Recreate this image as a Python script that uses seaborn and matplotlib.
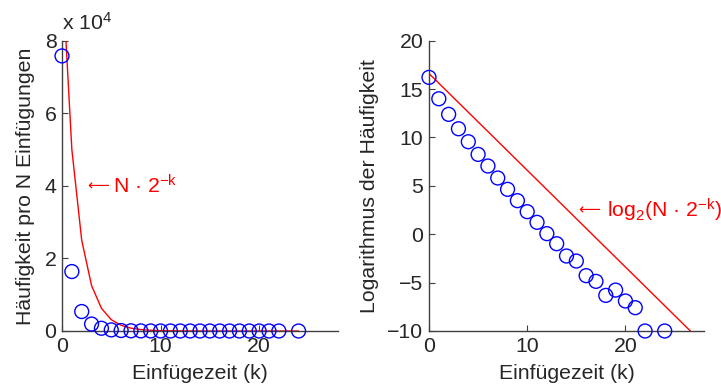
import numpy as np
import pandas as pd
import matplotlib
matplotlib.use("Agg")
import matplotlib.pyplot as plt
import seaborn as sns
from matplotlib.ticker import FuncFormatter

# ---- data ----
k_points = [0, 1, 2, 3, 4, 5, 6, 7, 8, 9, 10, 11, 12, 13, 14, 15, 16, 17, 18, 19, 20, 21, 22, 24]
log_freq = [16.21, 14.0, 12.39, 10.9, 9.56, 8.25, 7.05, 5.81, 4.64, 3.47, 2.33, 1.23, 0.06,
            -0.98, -2.25, -2.77, -4.28, -4.87, -6.32, -5.77, -6.9, -7.59, -10.0, -10.0]
N_total = 100000
k_curve_left = list(range(0, 25))
k_curve_right = list(range(0, 29))
x_ticks = [0, 10, 20]
y_ticks_left = [0, 20000, 40000, 60000, 80000]
y_ticks_right = [-10, -5, 0, 5, 10, 15, 20]

# counts per N insertions (log value -10 marks empty bins)
freq = [0.0 if v <= -10 else 2.0 ** v for v in log_freq]
curve_left = [N_total * 2.0 ** (-k) for k in k_curve_left]
curve_right = [np.log2(N_total) - k for k in k_curve_right]

sns.set_theme(style="ticks")
plt.rcParams['font.family'] = ['Liberation Sans', 'DejaVu Sans']
plt.rcParams['mathtext.fontset'] = 'custom'
plt.rcParams['mathtext.rm'] = 'Liberation Sans'
plt.rcParams['mathtext.it'] = 'Liberation Sans'
plt.rcParams['mathtext.bf'] = 'Liberation Sans:bold'
plt.rcParams['xtick.direction'] = 'in'
plt.rcParams['ytick.direction'] = 'in'

W, H = 721, 392
fig = plt.figure(figsize=(W / 100, H / 100), dpi=100)
axL = fig.add_axes([62 / W, 1 - 331 / H, (338 - 62) / W, (331 - 40.7) / H])
axR = fig.add_axes([429 / W, 1 - 331 / H, (704 - 429) / W, (331 - 40.7) / H])

FS = 15.3
blue = '#0000ff'
red = '#ff0000'

dfL = pd.DataFrame({'k': k_curve_left, 'v': curve_left})
dfP = pd.DataFrame({'k': k_points, 'f': freq, 'lf': log_freq})
dfR = pd.DataFrame({'k': k_curve_right, 'v': curve_right})

# left panel
sns.lineplot(data=dfL, x='k', y='v', ax=axL, color=red, linewidth=1.0)
sns.scatterplot(data=dfP, x='k', y='f', ax=axL, marker='o', s=100,
                facecolor='none', edgecolor=blue, linewidth=1.0, clip_on=False, zorder=3)
axL.set_xlim(0, 28)
axL.set_ylim(0, 80000)
axL.set_xticks(x_ticks)
axL.set_yticks(y_ticks_left)
axL.yaxis.set_major_formatter(FuncFormatter(lambda v, p: f"{v/1e4:g}"))
axL.set_xlabel('Einfügezeit (k)', fontsize=FS, labelpad=6)
axL.set_ylabel('Häufigkeit pro N Einfügungen', fontsize=FS, labelpad=7)
axL.text(0, 1.025, r'x 10$^4$', transform=axL.transAxes, fontsize=FS, ha='left', va='bottom')
axL.text(2.55, 40000, '\u27f5', color=red, fontsize=11, family='DejaVu Sans',
         ha='left', va='center')
axL.annotate('N \u00b7 2$^{\u2212k}$', xy=(2.55, 40000), xytext=(26, 0),
             textcoords='offset pixels', color=red, fontsize=FS, ha='left', va='center')

# right panel
sns.lineplot(data=dfR, x='k', y='v', ax=axR, color=red, linewidth=1.0)
sns.scatterplot(data=dfP, x='k', y='lf', ax=axR, marker='o', s=100,
                facecolor='none', edgecolor=blue, linewidth=1.0, clip_on=False, zorder=3)
axR.set_xlim(0, 28)
axR.set_ylim(-10, 20)
axR.set_xticks(x_ticks)
axR.set_yticks(y_ticks_right)
axR.set_xlabel('Einfügezeit (k)', fontsize=FS, labelpad=6)
axR.set_ylabel('Logarithmus der Häufigkeit', fontsize=FS, labelpad=6)
axR.text(15.2, 2.5, '\u27f5', color=red, fontsize=11, family='DejaVu Sans',
         ha='left', va='center', clip_on=False)
axR.annotate('log$_2$(N \u00b7 2$^{\u2212k}$)', xy=(15.2, 2.5), xytext=(29, 0),
             textcoords='offset pixels', color=red, fontsize=FS, ha='left', va='center',
             annotation_clip=False)

for ax in (axL, axR):
    sns.despine(ax=ax)
    for s in ('left', 'bottom'):
        ax.spines[s].set_color('#404040')
        ax.spines[s].set_linewidth(1.0)
    ax.tick_params(axis='both', labelsize=FS, length=4, width=0.8, color='#404040', pad=4)
    ax.set_facecolor('white')

fig.savefig('out.png', dpi=100, facecolor='white')
